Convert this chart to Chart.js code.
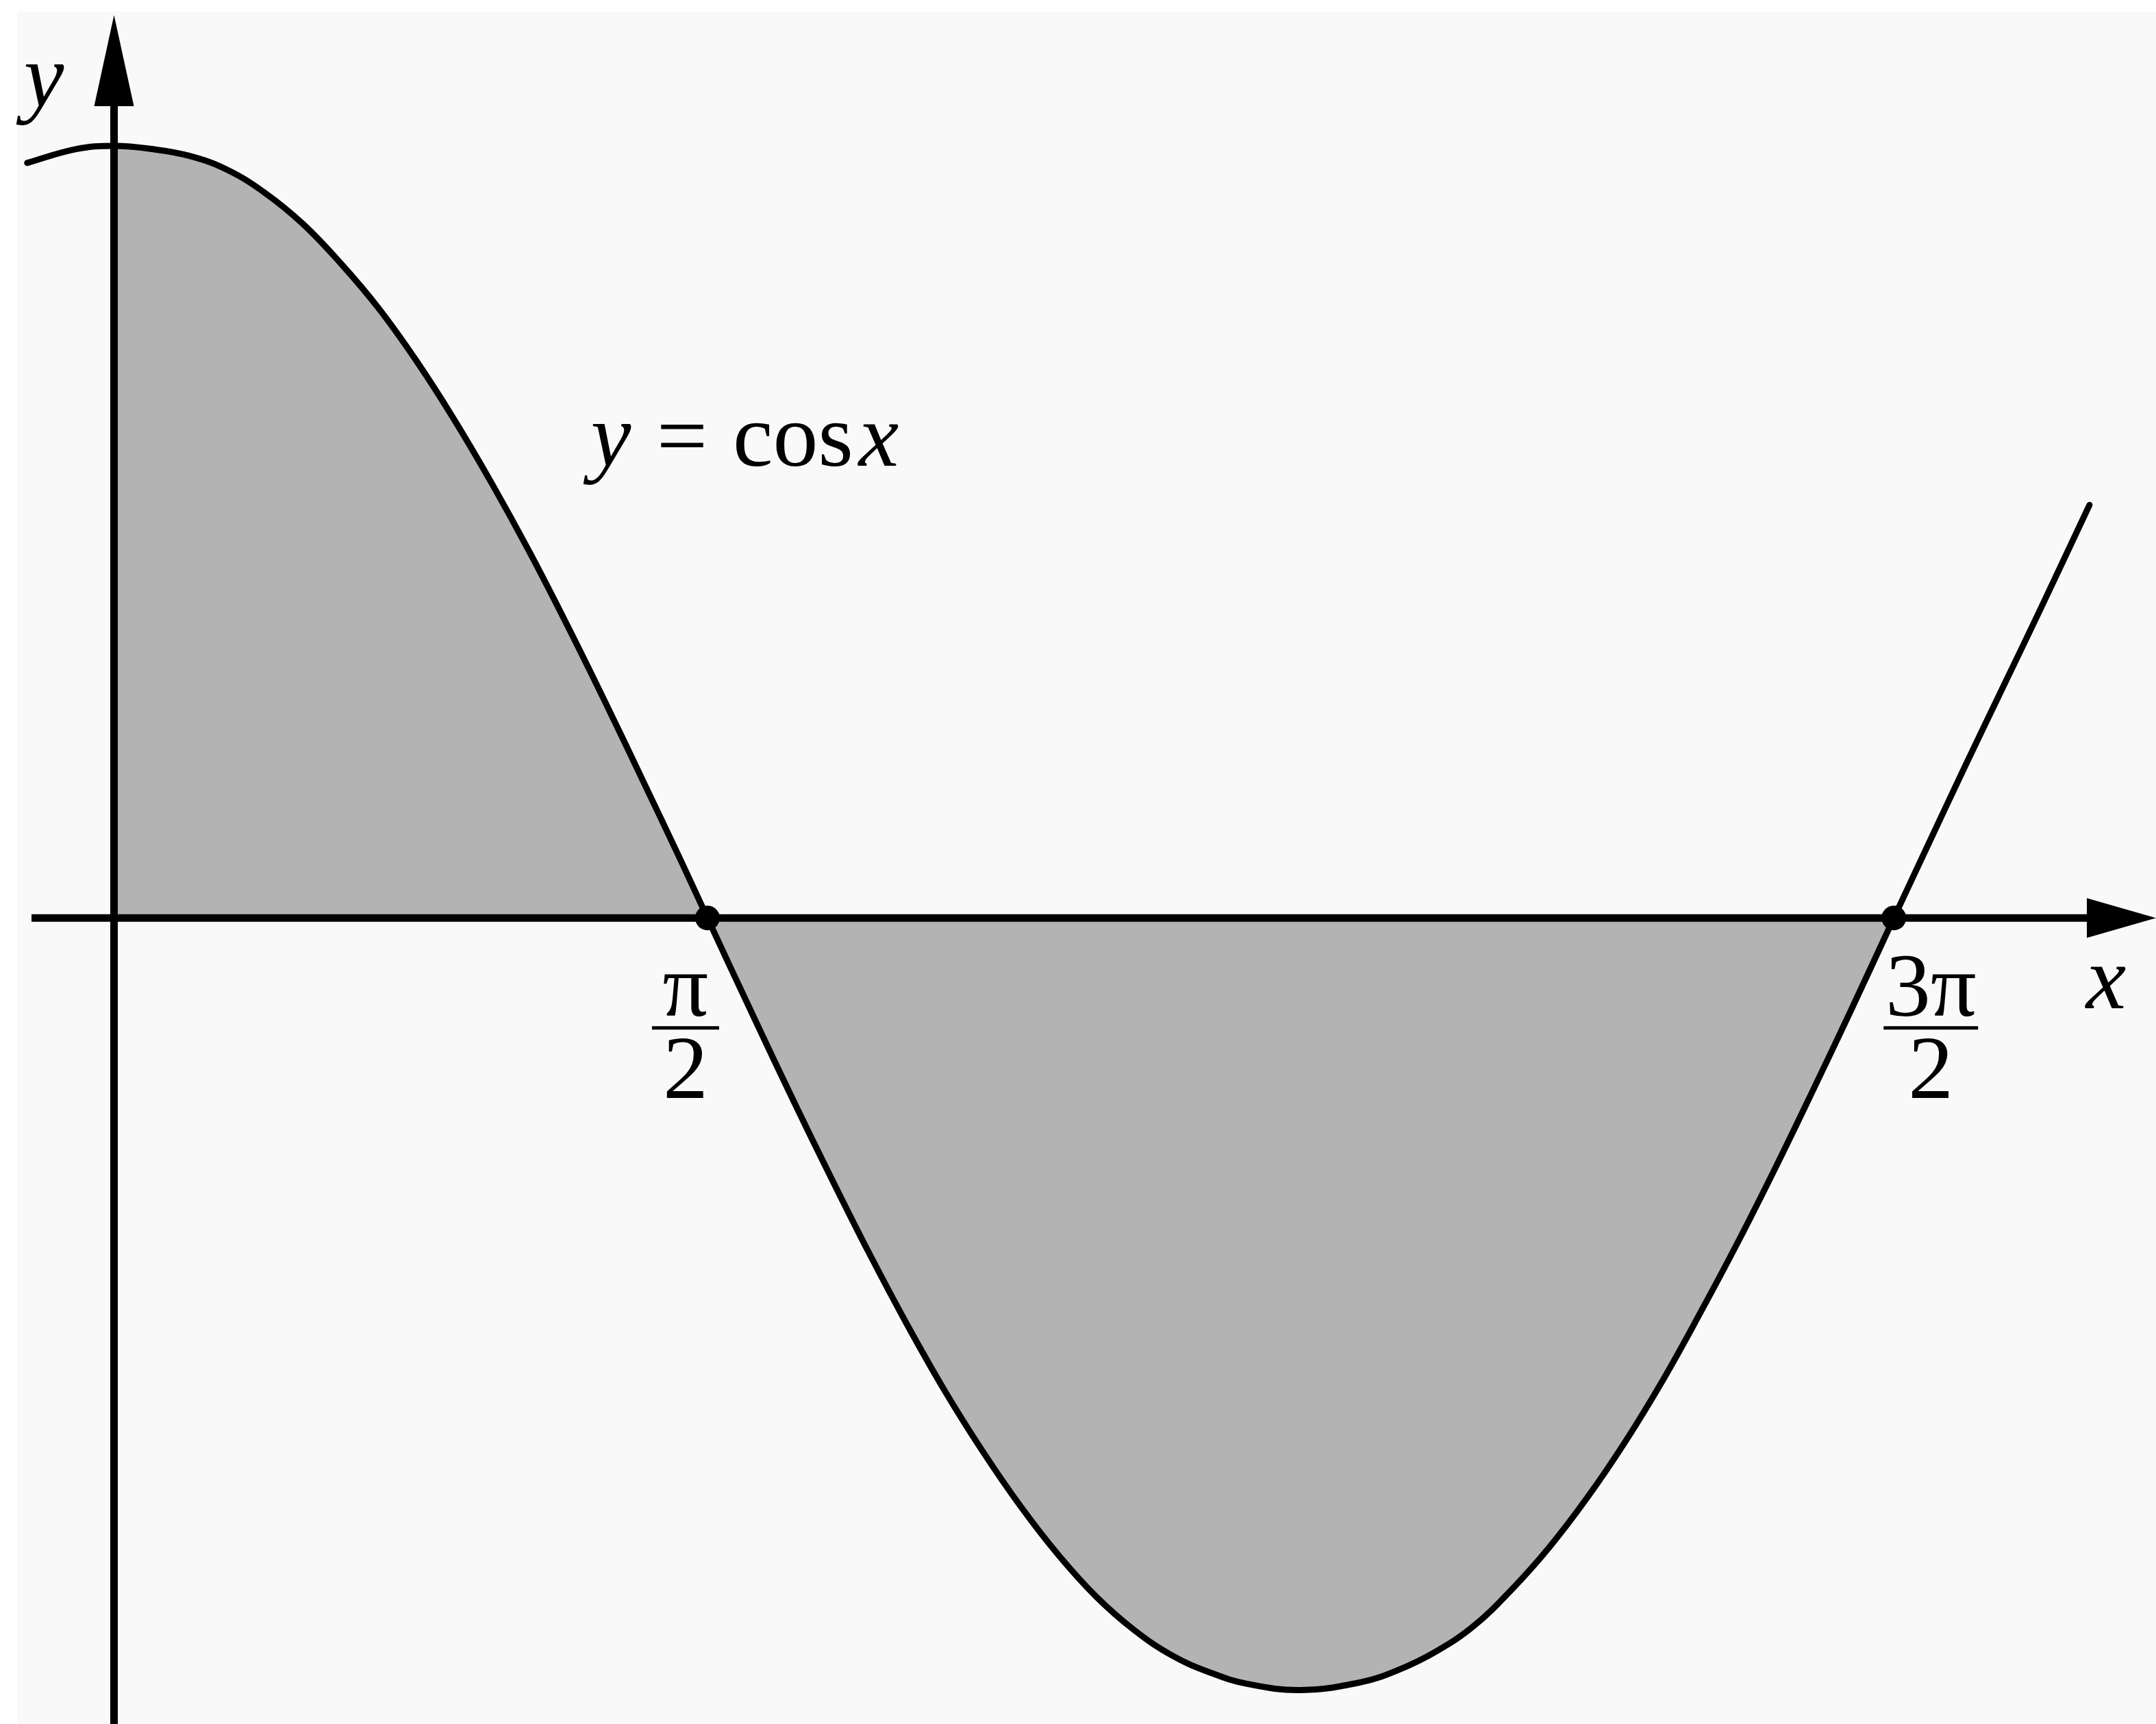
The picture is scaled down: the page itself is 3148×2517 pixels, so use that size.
<!DOCTYPE html>
<html>
<head>
<meta charset="utf-8">
<script src="https://cdn.jsdelivr.net/npm/chart.js@4/dist/chart.umd.min.js"></script>
<style>
  html, body { margin: 0; padding: 0; background: #ffffff; }
  canvas { display: block; }
</style>
</head>
<body>
<canvas id="cosChart" width="3148" height="2517"></canvas>
<script>
// curve (x in radians, y in units of the peak)
const curveX = [-0.23, -0.1, 0, 0.1, 0.2, 0.3, 0.4, 0.5, 0.6, 0.7, 0.8, 0.9, 1.0, 1.1, 1.2, 1.3, 1.4, 1.5, 1.571,
                1.7, 1.8, 1.9, 2.0, 2.1, 2.2, 2.3, 2.4, 2.5, 2.6, 2.7, 2.8, 2.9, 3.0, 3.142, 3.3, 3.4,
                3.5, 3.6, 3.7, 3.8, 3.9, 4.0, 4.1, 4.2, 4.3, 4.4, 4.5, 4.6, 4.712, 4.8, 4.9, 5.0, 5.1, 5.23];
const curveY = [0.978, 0.996, 1.0, 0.996, 0.987, 0.969, 0.939, 0.899, 0.848, 0.79, 0.722, 0.646, 0.563, 0.474, 0.379, 0.28, 0.178, 0.075, 0,
                -0.135, -0.238, -0.338, -0.435, -0.527, -0.613, -0.691, -0.762, -0.825, -0.879, -0.922, -0.955, -0.977, -0.992, -1.0, -0.99, -0.974,
                -0.95, -0.917, -0.87, -0.815, -0.751, -0.679, -0.599, -0.511, -0.419, -0.322, -0.221, -0.118, 0, 0.092, 0.196, 0.298, 0.4, 0.535];

// shaded part runs between these two x values
const shadeFrom = 0;
const shadeTo = 4.712;

// marked points on the x axis and their labels
const tickValues = [1.571, 4.712];
const tickNumerators = ['π', '3π'];
const tickDenominators = ['2', '2'];

const curveLabel = ['y', '=', 'cos', 'x'];

const curvePoints = curveX.map((x, i) => ({ x: x, y: curveY[i] }));
const shadePoints = curvePoints.filter(p => p.x >= shadeFrom && p.x <= shadeTo);
const tickPoints = tickValues.map(v => ({ x: v, y: 0 }));

const SERIF = '"Liberation Serif", Times, serif';

function drawText(ctx, s, x, y, font, align) {
    ctx.font = font;
    ctx.textAlign = align || 'center';
    ctx.textBaseline = 'alphabetic';
    ctx.fillStyle = '#000';
    ctx.fillText(s, x, y);
}

const axesPlugin = {
    id: 'axes',
    beforeDraw(chart) {
        const ctx = chart.ctx;
        ctx.save();
        ctx.fillStyle = '#f9f9f9';
        ctx.fillRect(25, 17, chart.width - 25, chart.height - 17);
        ctx.restore();
    },
    afterDatasetsDraw(chart) {
        const ctx = chart.ctx;
        const xs = chart.scales.x;
        const ys = chart.scales.y;
        const x0 = xs.getPixelForValue(0);
        const y0 = ys.getPixelForValue(0);
        ctx.save();
        ctx.strokeStyle = '#000';
        ctx.fillStyle = '#000';
        ctx.lineWidth = 11;

        // x axis with arrow
        const xEnd = chart.width;
        ctx.beginPath();
        ctx.moveTo(46, y0);
        ctx.lineTo(xEnd - 90, y0);
        ctx.stroke();
        ctx.beginPath();
        ctx.moveTo(xEnd, y0);
        ctx.lineTo(xEnd - 101, y0 - 29);
        ctx.lineTo(xEnd - 101, y0 + 29);
        ctx.closePath();
        ctx.fill();

        // y axis with arrow
        ctx.beginPath();
        ctx.moveTo(x0, chart.height);
        ctx.lineTo(x0, 140);
        ctx.stroke();
        ctx.beginPath();
        ctx.moveTo(x0, 22);
        ctx.lineTo(x0 - 29, 155);
        ctx.lineTo(x0 + 29, 155);
        ctx.closePath();
        ctx.fill();

        // axis names
        drawText(ctx, 'y', 64, 155, 'italic 132px ' + SERIF, 'center');
        drawText(ctx, 'x', 3075, y0 + 132, 'italic 132px ' + SERIF, 'center');

        // fraction tick labels
        const shift = [-32, 54];
        const bars = [98, 138];
        tickValues.forEach((v, i) => {
            const cx = xs.getPixelForValue(v) + shift[i];
            drawText(ctx, tickNumerators[i], cx, y0 + 143, '132px ' + SERIF, 'center');
            ctx.fillRect(cx - bars[i] / 2, y0 + 158, bars[i], 5);
            drawText(ctx, tickDenominators[i], cx, y0 + 263, '132px ' + SERIF, 'center');
        });

        // curve label  y = cos x
        const lx = [892, 996, 1158, 1283];
        const fonts = ['italic 132px ', '132px ', '132px ', 'italic 132px '];
        curveLabel.forEach((s, i) => {
            drawText(ctx, s, lx[i], 680, fonts[i] + SERIF, 'center');
        });
        ctx.restore();
    }
};

new Chart(document.getElementById('cosChart'), {
    type: 'scatter',
    data: {
        datasets: [
            {
                data: tickPoints,
                pointRadius: 18,
                pointBackgroundColor: '#000',
                pointBorderWidth: 0,
                showLine: false,
                order: 1
            },
            {
                data: curvePoints,
                showLine: true,
                borderColor: '#000',
                borderWidth: 9,
                borderCapStyle: 'round',
                pointRadius: 0,
                tension: 0.4,
                fill: false,
                order: 2
            },
            {
                data: shadePoints,
                showLine: true,
                borderWidth: 0,
                borderColor: 'rgba(0,0,0,0)',
                backgroundColor: '#b3b3b3',
                pointRadius: 0,
                tension: 0.4,
                fill: 'origin',
                order: 3
            }
        ]
    },
    options: {
        responsive: false,
        animation: false,
        layout: { padding: 0, autoPadding: false },
        plugins: { legend: { display: false }, tooltip: { enabled: false } },
        scales: {
            x: { type: 'linear', min: -0.3019, max: 5.406, display: false },
            y: { type: 'linear', min: -1.044, max: 1.189, display: false }
        }
    },
    plugins: [axesPlugin]
});
</script>
</body>
</html>
